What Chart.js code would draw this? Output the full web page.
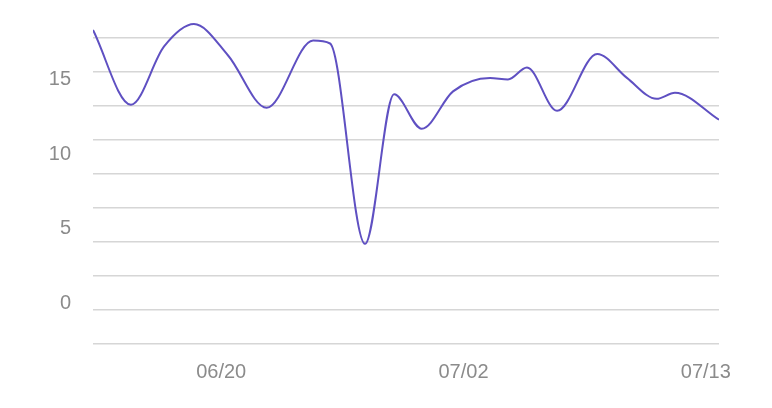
<!DOCTYPE html>
<html>
<head>
<meta charset="utf-8">
<title>Line chart</title>
<script src="https://cdn.jsdelivr.net/npm/chart.js@4.4.1/dist/chart.umd.min.js"></script>
<style>
    html, body { margin: 0; padding: 0; background: #ffffff; }
    #wrap { width: 772px; height: 408px; }
</style>
</head>
<body>
<div id="wrap"><canvas id="chart1" width="772" height="408"></canvas></div>
<script>
(function(){
    "use strict";

    // x position of each point, in days from the first one
    const days = [0, 1.88, 3.52, 5.0, 6.69, 8.6, 10.9, 11.74, 13.47, 14.91, 16.28,
                  17.83, 19.66, 20.55, 21.49, 22.98, 24.97, 26.44, 27.91, 28.82, 31];
    const values = [18.3, 13.3, 17.2, 18.7, 16.6, 13.1, 17.6, 17.4, 4.0, 14.0, 11.7,
                    14.2, 15.1, 15.0, 15.8, 12.9, 16.7, 15.1, 13.7, 14.1, 12.3];

    // axis ticks
    const xTickDays = [6, 18, 30];
    const xTickLabels = ['06/20', '07/02', '07/13'];
    const yTicks = [0, 5, 10, 15];
    const gridSteps = [0, 1, 2, 3, 4, 5, 6, 7, 8, 9];

    const points = days.map((d, i) => ({ x: d, y: values[i] }));

    const labelFont = { family: '"Liberation Sans", Helvetica, Arial, sans-serif', size: 20 };
    const labelColor = '#8b8b8b';

    const config = {
        type: 'line',
        data: {
            datasets: [{
                data: points,
                borderColor: '#5f50c2',
                borderWidth: 2,
                pointRadius: 0,
                fill: false,
                cubicInterpolationMode: 'monotone'
            }]
        },
        options: {
            responsive: false,
            animation: false,
            layout: { padding: { top: 16, right: 53, bottom: 0, left: 0 } },
            plugins: {
                legend: { display: false },
                tooltip: { enabled: false }
            },
            scales: {
                x: {
                    type: 'linear',
                    min: 0,
                    max: 31,
                    grid: { display: false, drawTicks: false },
                    border: { display: false },
                    afterBuildTicks: scale => {
                        scale.ticks = xTickDays.map(v => ({ value: v }));
                    },
                    afterFit: scale => { scale.height = 64; },
                    ticks: {
                        autoSkip: false,
                        maxRotation: 0,
                        padding: 16,
                        labelOffset: 7,
                        color: labelColor,
                        font: labelFont,
                        callback: (value, index) => xTickLabels[index]
                    }
                },
                y: {
                    type: 'linear',
                    position: 'left',
                    min: -2.7,
                    max: 19.24,
                    grid: { display: false, drawTicks: false },
                    border: { display: false },
                    afterBuildTicks: scale => {
                        scale.ticks = yTicks.map(v => ({ value: v }));
                    },
                    afterFit: scale => {
                        scale.width = 93;
                        scale.paddingTop = 0;   // keep the chart area top where it is
                        scale.paddingBottom = 0;
                    },
                    ticks: {
                        padding: 22,
                        color: labelColor,
                        font: labelFont
                    }
                },
                // second axis only for the evenly spaced grey rules
                y2: {
                    type: 'linear',
                    position: 'right',
                    min: 0,
                    max: 328 / 34,
                    grid: { color: '#d6d6d6', lineWidth: 1.6, drawTicks: false },
                    border: { display: false },
                    afterBuildTicks: scale => {
                        scale.ticks = gridSteps.map(v => ({ value: v }));
                    },
                    afterFit: scale => { scale.width = 0; },
                    ticks: { display: false }
                }
            }
        }
    };

    const chart1 = new Chart(document.getElementById('chart1'), config);
})();
</script>
</body>
</html>
